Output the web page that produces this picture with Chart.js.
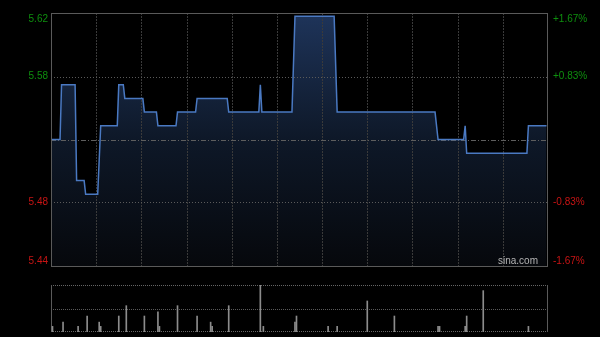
<!DOCTYPE html>
<html>
<head>
<meta charset="utf-8">
<script src="https://cdn.jsdelivr.net/npm/chart.js@4.4.1/dist/chart.umd.min.js"></script>
<style>
  body { margin: 0; background: #000; }
  #wrap { position: relative; width: 600px; height: 337px; background: #000; }
  canvas { position: absolute; left: 0; }
  #priceChart { top: 0; }
  #volChart { top: 280px; }
</style>
</head>
<body>
<div id="wrap">
  <canvas id="priceChart" width="600" height="280"></canvas>
  <canvas id="volChart" width="600" height="57"></canvas>
</div>
<script>
// Datos del gráfico intradía (minutos desde la apertura)
const prevClose = 5.53;
const minutes = [0, 6, 7, 16, 17, 22, 23, 31, 33, 44, 45, 48, 49, 61, 62, 70, 71, 83, 84, 96,
  97, 117, 118, 138, 139, 140, 160, 162, 188, 190, 255, 257, 274, 275, 276, 316, 317, 329];
const prices = [5.53, 5.53, 5.57, 5.57, 5.50, 5.50, 5.49, 5.49, 5.54, 5.54, 5.57, 5.57, 5.56, 5.56, 5.55, 5.55, 5.54, 5.54, 5.55, 5.55,
  5.56, 5.56, 5.55, 5.55, 5.57, 5.55, 5.55, 5.62, 5.62, 5.55, 5.55, 5.53, 5.53, 5.54, 5.52, 5.52, 5.54, 5.54];

const volMinutes = [1, 8, 18, 24, 32, 33, 45, 50, 62, 71, 72, 84, 97, 106, 107, 118, 139, 141, 162, 163,
  184, 190, 210, 228, 257, 258, 275, 276, 287, 317];
const volumes = [12, 21, 12, 34, 21, 12, 34, 56, 34, 43, 12, 56, 34, 21, 12, 56, 100, 12, 21, 34,
  12, 12, 66, 34, 12, 12, 12, 34, 88, 12];

// Ticks
const pctTicks = [-1.67, -0.83, 0, 0.83, 1.67];
const priceLabels = ['5.44', '5.48', '', '5.58', '5.62'];
const pctLabels = ['-1.67%', '-0.83%', '', '+0.83%', '+1.67%'];
const timeTicks = [30, 60, 90, 120, 150, 180, 210, 240, 270, 300];
const totalMinutes = 330;

const priceTicks = pctTicks.map(p => prevClose * (1 + p / 100));
const labelFont = "10px 'Liberation Sans', Arial, sans-serif";
const points = minutes.map((m, i) => ({ x: m, y: prices[i] }));

// Dibuja una línea horizontal o vertical con patrón
function drawLine(ctx, x1, y1, x2, y2, color, dash) {
  ctx.save();
  ctx.strokeStyle = color;
  ctx.lineWidth = 1;
  ctx.setLineDash(dash || []);
  ctx.beginPath();
  ctx.moveTo(x1, y1);
  ctx.lineTo(x2, y2);
  ctx.stroke();
  ctx.restore();
}

// La rejilla va encima del relleno pero debajo de la línea
const priceGrid = {
  id: 'priceGrid',
  afterDatasetDraw(chart, args) {
    if (args.index !== 0) return;
    const { ctx, chartArea: a, scales: { x, y } } = chart;
    timeTicks.forEach(t => {
      const px = Math.round(x.getPixelForValue(t)) + 0.5;
      drawLine(ctx, px, a.top, px, a.bottom, '#3a3a3a', [2, 1]);
    });
    priceTicks.forEach((v, i) => {
      if (i === 0 || i === priceTicks.length - 1) return;
      const py = Math.round(y.getPixelForValue(v)) + 0.5;
      if (pctTicks[i] === 0) {
        drawLine(ctx, a.left, py, a.right, py, '#5e5e5e', [5, 2, 1, 2]);
      } else {
        drawLine(ctx, a.left, py, a.right, py, '#5a5a5a', [1, 2]);
      }
    });
  },
  afterDraw(chart) {
    const { ctx, chartArea: a, scales: { y } } = chart;
    // borde
    ctx.save();
    ctx.strokeStyle = '#5a5a5a';
    ctx.lineWidth = 1;
    ctx.strokeRect(a.left + 0.5, a.top + 0.5, a.right - a.left - 1, a.bottom - a.top);
    ctx.restore();

    ctx.save();
    ctx.font = labelFont;
    priceTicks.forEach((v, i) => {
      if (!priceLabels[i]) return;
      let py = y.getPixelForValue(v);
      let base = 'middle';
      if (i === priceTicks.length - 1) { base = 'top'; py = a.top + 1; }
      if (i === 0) { base = 'bottom'; py = a.bottom; }
      ctx.textBaseline = base;
      ctx.fillStyle = pctTicks[i] > 0 ? '#0e8f0e' : '#c81414';
      ctx.textAlign = 'right';
      ctx.fillText(priceLabels[i], a.left - 3, py);
      ctx.textAlign = 'left';
      ctx.fillText(pctLabels[i], a.right + 5, py);
    });
    ctx.fillStyle = '#b4b4b4';
    ctx.textAlign = 'right';
    ctx.textBaseline = 'alphabetic';
    ctx.fillText('sina.com', a.right - 10, a.bottom - 2);
    ctx.restore();
  }
};

new Chart(document.getElementById('priceChart'), {
  type: 'line',
  data: {
    datasets: [{
      // relleno
      data: points,
      order: 2,
      borderWidth: 0,
      pointRadius: 0,
      tension: 0,
      fill: 'start',
      backgroundColor: context => {
        const { chartArea, ctx } = context.chart;
        if (!chartArea) return 'rgba(20,35,60,1)';
        const g = ctx.createLinearGradient(0, chartArea.top, 0, chartArea.bottom);
        g.addColorStop(0, 'rgba(30,52,90,1)');
        g.addColorStop(0.5, 'rgba(14,24,40,1)');
        g.addColorStop(1, 'rgba(6,8,12,1)');
        return g;
      }
    }, {
      // línea de precio
      data: points,
      order: 1,
      borderColor: '#4a79c2',
      borderWidth: 1.5,
      pointRadius: 0,
      tension: 0,
      fill: false
    }]
  },
  options: {
    responsive: false,
    animation: false,
    devicePixelRatio: 1,
    layout: { padding: { left: 51, right: 52, top: 13, bottom: 14 } },
    plugins: { legend: { display: false }, tooltip: { enabled: false } },
    scales: {
      x: { type: 'linear', min: 0, max: totalMinutes, display: false },
      y: { min: priceTicks[0], max: priceTicks[priceTicks.length - 1], display: false }
    }
  },
  plugins: [priceGrid]
});

const volGrid = {
  id: 'volGrid',
  beforeDatasetsDraw(chart) {
    const { ctx, chartArea: a, scales: { y } } = chart;
    const mid = Math.round(y.getPixelForValue(50)) + 0.5;
    drawLine(ctx, a.left, a.top + 0.5, a.right, a.top + 0.5, '#666', [1, 1]);
    drawLine(ctx, a.left, mid, a.right, mid, '#5a5a5a', [1, 1]);
    drawLine(ctx, a.left, a.bottom - 0.5, a.right, a.bottom - 0.5, '#666', [1, 1]);
    drawLine(ctx, a.left + 0.5, a.top, a.left + 0.5, a.bottom, '#5a5a5a');
    drawLine(ctx, a.right - 0.5, a.top, a.right - 0.5, a.bottom, '#5a5a5a');
  }
};

new Chart(document.getElementById('volChart'), {
  type: 'bar',
  data: {
    datasets: [{
      data: volMinutes.map((m, i) => ({ x: m, y: volumes[i] })),
      backgroundColor: '#8c8c8c',
      barThickness: 1,
      borderWidth: 0
    }]
  },
  options: {
    responsive: false,
    animation: false,
    devicePixelRatio: 1,
    layout: { padding: { left: 51, right: 52, top: 5, bottom: 5 } },
    plugins: { legend: { display: false }, tooltip: { enabled: false } },
    scales: {
      x: { type: 'linear', min: 0, max: totalMinutes, offset: false, display: false },
      y: { min: 0, max: 100, display: false }
    }
  },
  plugins: [volGrid]
});
</script>
</body>
</html>
